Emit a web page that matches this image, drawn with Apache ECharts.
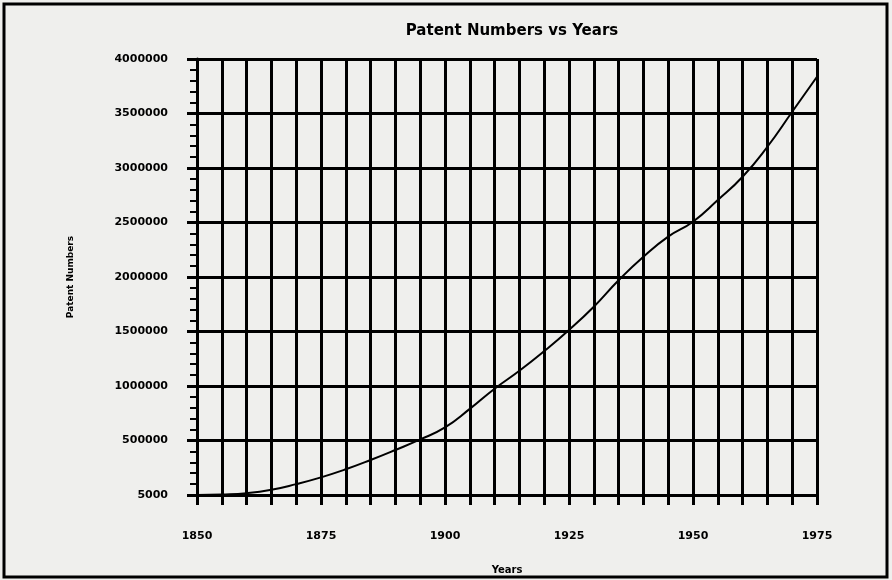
<!DOCTYPE html>
<html>
<head>
<meta charset="utf-8">
<script src="https://cdn.jsdelivr.net/npm/echarts@6/dist/echarts.min.js"></script>
<style>
html,body{margin:0;padding:0;background:#efefed;}
#chart{width:892px;height:580px;}
</style>
</head>
<body>
<div id="chart"></div>
<script>
// years on the x axis, one point every 5 years
var years = [1850,1855,1860,1865,1870,1875,1880,1885,1890,1895,1900,1905,1910,1915,1920,1925,1930,1935,1940,1945,1950,1955,1960,1965,1970,1975];
// patent numbers
var patents = [0,5000,17000,48000,100000,162000,236000,321000,413000,510000,620000,790000,975000,1140000,1320000,1514000,1727000,1970000,2186000,2370000,2507000,2706000,2920000,3195000,3516000,3837000];
// tick labels as printed
var xTickLabels = ['1850','1875','1900','1925','1950','1975'];
var yTickLabels = ['5000','500000','1000000','1500000','2000000','2500000','3000000','3500000','4000000'];

var chart = echarts.init(document.getElementById('chart'));

var pts = [];
for (var i = 0; i < years.length; i++) {
	pts.push([years[i], patents[i]]);
}

var fnt = 'DejaVu Sans';

chart.setOption({
	backgroundColor: '#efefed',
	animation: false,
	title: {
		text: 'Patent Numbers vs Years',
		left: 507,
		textAlign: 'center',
		top: 19,
		textStyle: {fontFamily: fnt, fontWeight: 'bold', fontSize: 15, color: '#000'}
	},
	graphic: [{
		type: 'rect',
		shape: {x: 4, y: 4, width: 883, height: 573},
		style: {fill: 'none', stroke: '#000', lineWidth: 3}
	}],
	grid: {left: 197, right: 75, top: 59, bottom: 85},
	xAxis: {
		type: 'value',
		min: 1850, max: 1975, interval: 5,
		name: 'Years',
		nameLocation: 'middle',
		nameGap: 70,
		nameTextStyle: {fontFamily: fnt, fontWeight: 'bold', fontSize: 10, color: '#000'},
		axisLine: {lineStyle: {color: '#000', width: 3}},
		axisTick: {show: true, length: 10, lineStyle: {color: '#000', width: 3}},
		axisLabel: {
			margin: 36,
			fontFamily: fnt, fontWeight: 'bold', fontSize: 11, color: '#000',
			formatter: function (v) {
				var k = (v - 1850) / 25;
				return (k === Math.round(k)) ? xTickLabels[k] : '';
			}
		},
		splitLine: {show: true, lineStyle: {color: '#000', width: 3}}
	},
	yAxis: {
		type: 'value',
		min: 0, max: 4000000, interval: 500000,
		name: 'Patent Numbers',
		nameLocation: 'middle',
		nameGap: 122,
		nameTextStyle: {fontFamily: fnt, fontWeight: 'bold', fontSize: 9, color: '#000'},
		axisLine: {show: true, lineStyle: {color: '#000', width: 3}},
		axisTick: {show: true, length: 10, lineStyle: {color: '#000', width: 3}},
		minorTick: {show: true, splitNumber: 5, length: 7, lineStyle: {color: '#000', width: 2}},
		axisLabel: {
			margin: 29,
			fontFamily: fnt, fontWeight: 'bold', fontSize: 11, color: '#000',
			formatter: function (v) { return yTickLabels[Math.round(v / 500000)]; }
		},
		splitLine: {show: true, lineStyle: {color: '#000', width: 3}}
	},
	series: [{
		type: 'line',
		data: pts,
		smooth: true,
		showSymbol: false,
		lineStyle: {color: '#000', width: 2}
	}]
});
</script>
</body>
</html>
